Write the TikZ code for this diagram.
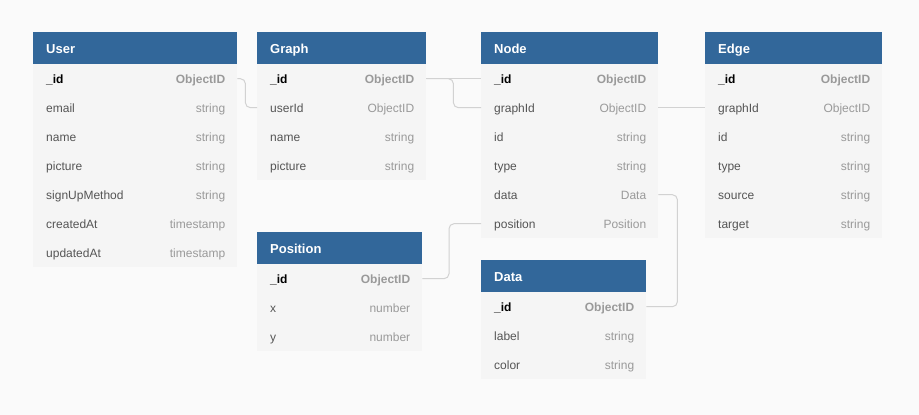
\documentclass[tikz,border=0pt]{standalone}
\usepackage{fontspec}
\setmainfont{Liberation Sans}
\definecolor{bgcol}{HTML}{FAFAFA}
\definecolor{bodycol}{HTML}{F5F5F5}
\definecolor{hdrcol}{HTML}{32679A}
\definecolor{fieldcol}{HTML}{555555}
\definecolor{typecol}{HTML}{9A9A9A}
\definecolor{linecol}{HTML}{D2D2D2}
\tikzset{
  hdr/.style={fill=hdrcol, draw=none, minimum height=32pt, inner sep=0pt},
  hdrtxt/.style={text=white, inner sep=0pt, font=\fontsize{13}{15}\selectfont\bfseries},
  rowbox/.style={fill=bodycol, draw=none, minimum height=29pt, inner sep=0pt},
  fieldtxt/.style={text=fieldcol, inner sep=0pt, font=\fontsize{12}{14}\selectfont},
  typetxt/.style={text=typecol, inner sep=0pt, font=\fontsize{12}{14}\selectfont},
  conn/.style={draw=linecol, line width=1pt, rounded corners=5pt}
}
% #1 name, #2 title, #3 left x, #4 top y, #5 width, #6 rows key/field/type
\newcommand{\erTable}[6]{%
  \node[hdr, minimum width=#5pt, anchor=north west] (#1) at (#3,#4) {};
  \node[hdrtxt, anchor=base west] (#1-title) at ([xshift=13pt,yshift=-5pt]#1.west) {#2};
  \foreach \k/\f/\t [count=\i] in {#6} {
    \pgfmathsetmacro{\yy}{#4+32+29*(\i-1)}
    \node[rowbox, minimum width=#5pt, anchor=north west] (#1-\k) at (#3,\yy) {};
    \node[fieldtxt, anchor=base west] (#1-\k-f) at ([xshift=13pt,yshift=-4.5pt]#1-\k.west)
      {\ifnum\i=1 \bfseries\color{black}\fi\f};
    \node[typetxt, anchor=base east] (#1-\k-t) at ([xshift=-12pt,yshift=-4.5pt]#1-\k.east)
      {\ifnum\i=1 \bfseries\fi\t};
  }
}
\begin{document}
\begin{tikzpicture}[x=1pt,y=-1pt]
\fill[bgcol] (0,0) rectangle (919,415);
\useasboundingbox (0,0) rectangle (919,415);

\erTable{User}{User}{33}{32}{204}{id/\_id/ObjectID, email/email/string, name/name/string, picture/picture/string, signUpMethod/signUpMethod/string, createdAt/createdAt/timestamp, updatedAt/updatedAt/timestamp}
\erTable{Graph}{Graph}{257}{32}{169}{id/\_id/ObjectID, userId/userId/ObjectID, name/name/string, picture/picture/string}
\erTable{Node}{Node}{481}{32}{177}{id/\_id/ObjectID, graphId/graphId/ObjectID, nid/id/string, type/type/string, data/data/Data, position/position/Position}
\erTable{Edge}{Edge}{705}{32}{177}{id/\_id/ObjectID, graphId/graphId/ObjectID, eid/id/string, type/type/string, source/source/string, target/target/string}
\erTable{Position}{Position}{257}{232}{165}{id/\_id/ObjectID, x/x/number, y/y/number}
\erTable{Data}{Data}{481}{260}{165}{id/\_id/ObjectID, label/label/string, color/color/string}

\draw[conn] (User-id.east) -- ++(8,0) |- (Graph-userId.west);
\draw[conn] (Graph-id.east) -- (Node-id.west);
\draw[conn] (Graph-id.east) -- ++(27,0) |- (Node-graphId.west);
\draw[conn] (Node-graphId.east) -- (Edge-graphId.west);
\draw[conn] (Node-position.west) -- ++(-32,0) |- (Position-id.east);
\draw[conn] (Node-data.east) -- ++(19,0) |- (Data-id.east);
\end{tikzpicture}
\end{document}
